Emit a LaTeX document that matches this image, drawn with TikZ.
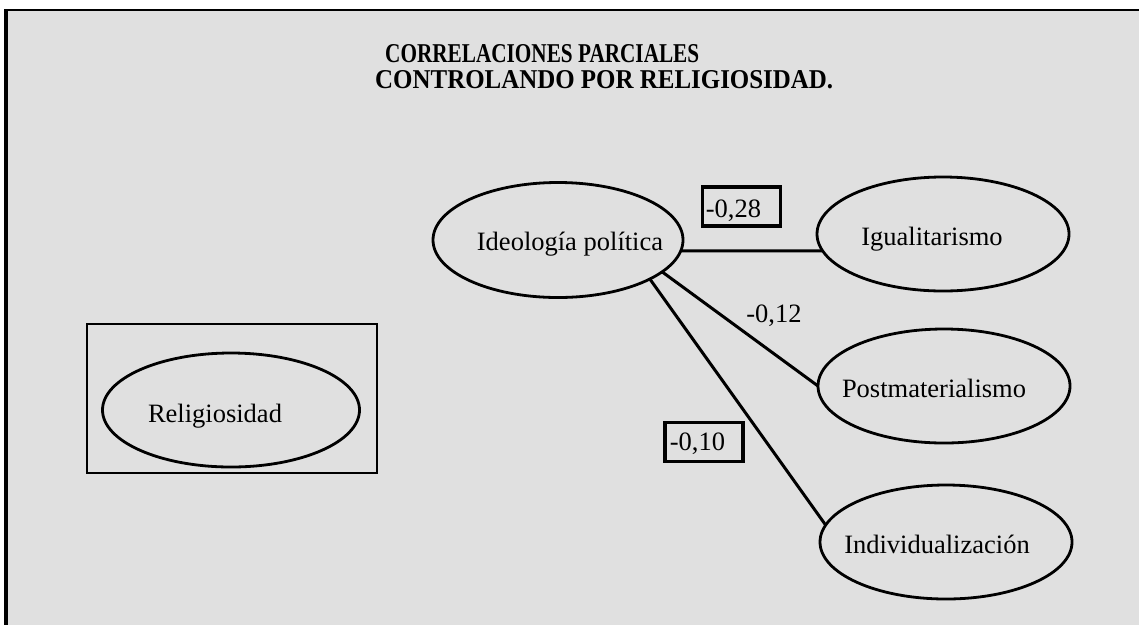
\documentclass[tikz,border=0pt]{standalone}
\usepackage{fontspec}
\usepackage{graphicx}
\setmainfont{Liberation Serif}
\usetikzlibrary{shapes.geometric}
\begin{document}
\begin{tikzpicture}[x=1pt,y=-1pt,
  oval/.style={draw, ellipse, line width=2.8pt, inner sep=0pt, outer sep=0pt, minimum width=252pt, minimum height=114pt},
  lbl/.style={font=\fontsize{26.5}{30}\selectfont, inner sep=0pt, anchor=base},
  link/.style={line width=3pt},
  valbox/.style={draw, line width=3.6pt, inner sep=0pt, minimum width=78pt, minimum height=39pt},
  ttl/.style={anchor=base west, inner sep=0pt}
]
\useasboundingbox (0,0) rectangle (1139,625);
\fill[gray!24] (6,10) rectangle (1139,625);
\draw[line width=2.4pt] (5,10) -- (1139,10);
\draw[line width=3.4pt] (6,9) -- (6,625);

% title
\node[ttl] (t1) at (385,62) {\resizebox{314pt}{18pt}{\bfseries CORRELACIONES PARCIALES}};
\node[ttl] (t2) at (375,88) {\resizebox{458pt}{18pt}{\bfseries CONTROLANDO POR RELIGIOSIDAD.}};

% ellipses
\node[oval, minimum width=250pt, minimum height=115pt] (ideo) at (558,240) {};
\node[oval] (igual) at (943,234) {};
\node[oval] (post) at (944,386) {};
\node[oval] (indiv) at (946,542) {};
\node[oval, minimum width=257pt] (relig) at (231,410) {};
\node[draw, line width=2.6pt, inner sep=0pt, outer sep=0pt, minimum width=290pt, minimum height=149pt] (relbox) at (232,398.5) {};

% texts
\node[lbl] (ideot) at (570,250) {Ideología política};
\node[lbl] (igualt) at (932,245) {Igualitarismo};
\node[lbl] (postt) at (934,397) {Postmaterialismo};
\node[lbl] (indivt) at (937,553) {Individualización};
\node[lbl] (religt) at (215,422) {Religiosidad};

% connectors
\draw[link] (ideo.-5.1) -- (igual.188);
\draw[link] (ideo.-17.4) -- (post.180);
\draw[link] (ideo.-23.1) -- (indiv.172);

% values
\node[valbox] (v28) at (741.5,206.5) {};
\node[lbl] (v28t) at (733.5,217) {-0,28};
\node[lbl] (v12t) at (774,322) {-0,12};
\node[valbox] (v10) at (704,442) {};
\node[lbl] (v10t) at (697.5,450) {-0,10};
\end{tikzpicture}
\end{document}
